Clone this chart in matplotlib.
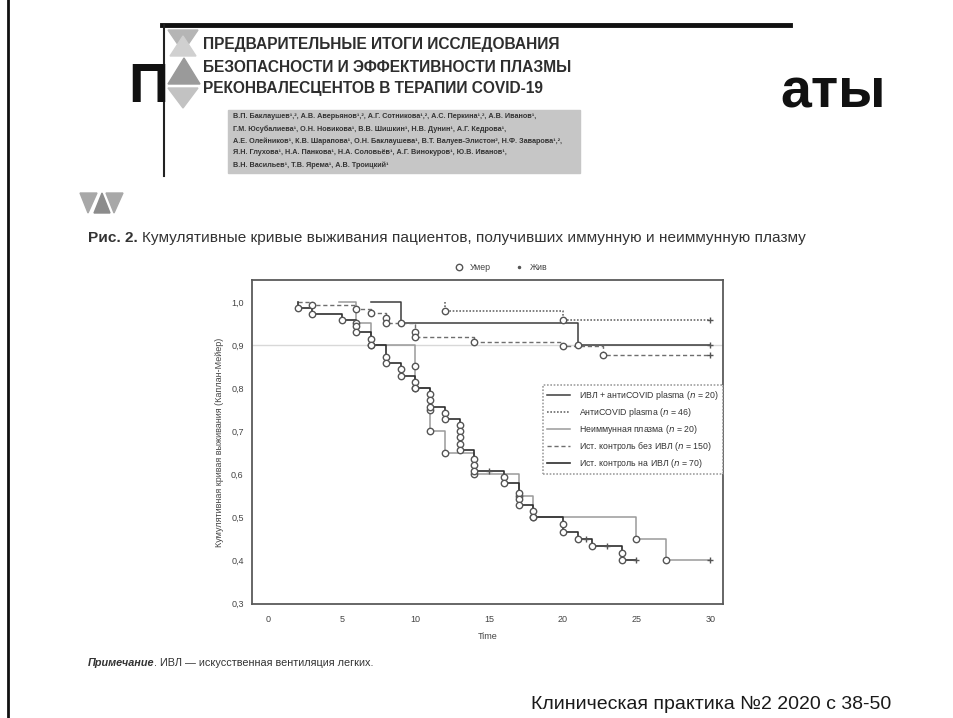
import matplotlib
matplotlib.use("Agg")
import matplotlib.pyplot as plt
from matplotlib.lines import Line2D
from matplotlib.patches import Rectangle, Polygon

plt.rcParams['font.family'] = ['Liberation Sans', 'DejaVu Sans']

W, H = 954, 718

# ---- Kaplan-Meier data (time in days, cumulative survival after each death) ----
ivl_plasma_start = 7
ivl_plasma_t = [9, 21]
ivl_plasma_s = [0.95, 0.90]
ivl_plasma_cens = [30]

plasma_start = 12
plasma_t = [12, 20]
plasma_s = [0.978, 0.957]
plasma_cens = [30]

nonimmune_start = 4.8
nonimmune_t = [6, 7, 10, 10, 11, 11, 12, 14, 17, 18, 25, 27]
nonimmune_s = [0.95, 0.90, 0.85, 0.80, 0.75, 0.70, 0.65, 0.60, 0.55, 0.50, 0.45, 0.40]
nonimmune_cens = [30]

ctrl_noivl_start = 2
ctrl_noivl_t = [3, 6, 7, 8, 8, 10, 10, 14, 20, 22.7]
ctrl_noivl_s = [0.993, 0.983, 0.974, 0.963, 0.952, 0.930, 0.919, 0.907, 0.898, 0.877]
ctrl_noivl_cens = [30]

ctrl_ivl_start = 2
ctrl_ivl_t = [2, 3, 5, 6, 6, 7, 7, 8, 8, 9, 9, 10, 10, 11, 11, 11, 12, 12,
              13, 13, 13, 13, 13, 14, 14, 14, 16, 16, 17, 17, 17, 18, 18,
              20, 20, 21, 22, 24, 24]
ctrl_ivl_s = [0.986, 0.971, 0.957, 0.943, 0.929, 0.914, 0.900, 0.871, 0.857,
              0.843, 0.829, 0.814, 0.800, 0.786, 0.771, 0.757, 0.743, 0.729,
              0.714, 0.700, 0.686, 0.671, 0.657, 0.636, 0.621, 0.607, 0.593,
              0.579, 0.557, 0.543, 0.529, 0.514, 0.500, 0.483, 0.466, 0.450,
              0.433, 0.416, 0.400]
ctrl_ivl_cens = [15, 21.6, 23, 25]

labels = [
    "ИВЛ + антиCOVID plasma ($n$ = 20)",
    "АнтиCOVID plasma ($n$ = 46)",
    "Неиммунная плазма ($n$ = 20)",
    "Ист. контроль без ИВЛ ($n$ = 150)",
    "Ист. контроль на ИВЛ ($n$ = 70)",
]

x_ticks = [0, 5, 10, 15, 20, 25, 30]
y_ticks = [0.3, 0.4, 0.5, 0.6, 0.7, 0.8, 0.9, 1.0]
y_ticklabels = ["0,3", "0,4", "0,5", "0,6", "0,7", "0,8", "0,9", "1,0"]

fig = plt.figure(figsize=(W / 100, H / 100), dpi=100)
fig.patch.set_facecolor("white")
renderer = fig.canvas.get_renderer()


def fx(px):
    return px / W


def fy(py):
    return 1 - py / H


def chain_text(x_px, y_px, parts, **common):
    """Draw consecutive text runs with different styles on one line."""
    x = fx(x_px)
    for s, kw in parts:
        t = fig.text(x, fy(y_px), s, va="center", ha="left", **common, **kw)
        x = t.get_window_extent(renderer).x1 / W


# ---- slide decorations ----
deco = fig.add_axes([0, 0, 1, 1], zorder=0)
deco.set_xlim(0, W)
deco.set_ylim(H, 0)
deco.axis("off")

# slide left border
deco.plot([8, 8], [0, H], color="#111111", lw=2)

# slide title fragments
fig.text(fx(128), fy(88), "П", fontsize=40, fontweight="bold", color="#111111",
         va="center", ha="left")
fig.text(fx(780), fy(93), "аты", fontsize=40, fontweight="bold", color="#111111",
         va="center", ha="left")

# journal header strip
deco.add_patch(Rectangle((160, 0), 630, 24, color="white", zorder=2))
deco.plot([162, 790], [25, 25], color="#111111", lw=3.5, zorder=3)
deco.plot([164, 164], [25, 176], color="#222222", lw=1.5, zorder=3)
deco.add_patch(Rectangle((166, 27), 420, 80, color="white", zorder=2))

# logo triangles
for pts, c in [
    ([(168, 30), (198, 30), (183, 52)], "#b5b5b5"),
    ([(170, 56), (196, 56), (183, 36)], "#d0d0d0"),
    ([(168, 84), (200, 84), (184, 58)], "#9a9a9a"),
    ([(168, 88), (198, 88), (183, 108)], "#c2c2c2"),
    ([(80, 193), (97, 193), (88, 213)], "#a8a8a8"),
    ([(94, 213), (110, 213), (102, 193)], "#8c8c8c"),
    ([(106, 193), (123, 193), (114, 213)], "#a8a8a8"),
]:
    deco.add_patch(Polygon(pts, closed=True, color=c, zorder=3))

# paper title
title_lines = [
    "ПРЕДВАРИТЕЛЬНЫЕ ИТОГИ ИССЛЕДОВАНИЯ",
    "БЕЗОПАСНОСТИ И ЭФФЕКТИВНОСТИ ПЛАЗМЫ",
    "РЕКОНВАЛЕСЦЕНТОВ В ТЕРАПИИ COVID-19",
]
for i, line in enumerate(title_lines):
    fig.text(fx(203), fy(45 + 22 * i), line, fontsize=11.2, fontweight="bold",
             color="#2e2e2e", va="center", ha="left", zorder=4)

# authors box
deco.add_patch(Rectangle((228, 110), 352, 63, color="#c6c6c6", zorder=3))
authors = [
    "В.П. Баклаушев¹,², А.В. Аверьянов¹,², А.Г. Сотникова¹,², А.С. Перкина¹,², А.В. Иванов¹,",
    "Г.М. Юсубалиева¹, О.Н. Новикова¹, В.В. Шишкин¹, Н.В. Дунин¹, А.Г. Кедрова¹,",
    "А.Е. Олейников¹, К.В. Шарапова¹, О.Н. Баклаушева¹, В.Т. Валуев-Элистон², Н.Ф. Заварова¹,²,",
    "Я.Н. Глухова¹, Н.А. Панкова¹, Н.А. Соловьёв¹, А.Г. Винокуров¹, Ю.В. Иванов¹,",
    "В.Н. Васильев¹, Т.В. Ярема¹, А.В. Троицкий¹",
]
for i, line in enumerate(authors):
    fig.text(fx(233), fy(117 + 12 * i), line, fontsize=5.2, fontweight="bold",
             color="#333333", va="center", ha="left", zorder=4)

# figure caption
chain_text(88, 238, [
    ("Рис. 2. ", dict(fontweight="bold")),
    ("Кумулятивные кривые выживания пациентов, получивших иммунную и неиммунную плазму", {}),
], fontsize=11.1, color="#333333")

# note and source
chain_text(88, 663, [
    ("Примечание", dict(fontweight="bold", fontstyle="italic")),
    (". ИВЛ — искусственная вентиляция легких.", {}),
], fontsize=7.8, color="#333333")
fig.text(fx(531), fy(704), "Клиническая практика №2 2020 с 38-50", fontsize=14,
         color="#1a1a1a", va="center", ha="left")

# ---- survival chart ----
ax = fig.add_axes([252 / W, 1 - 604 / H, (723 - 252) / W, (604 - 280) / H], zorder=2)
ax.set_xlim(-1.09, 30.87)
ax.set_ylim(0.298, 1.051)

ax.axhline(0.9, color="#d8d8d8", lw=1.0, zorder=1)

series = [
    (ivl_plasma_start, ivl_plasma_t, ivl_plasma_s, ivl_plasma_cens, "#3c3c3c", "-", 1.1),
    (plasma_start, plasma_t, plasma_s, plasma_cens, "#6a6a6a", (0, (1, 1)), 1.2),
    (nonimmune_start, nonimmune_t, nonimmune_s, nonimmune_cens, "#9a9a9a", "-", 1.1),
    (ctrl_noivl_start, ctrl_noivl_t, ctrl_noivl_s, ctrl_noivl_cens, "#6e6e6e", (0, (3, 2)), 1.0),
    (ctrl_ivl_start, ctrl_ivl_t, ctrl_ivl_s, ctrl_ivl_cens, "#2e2e2e", "-", 1.2),
]

for start, ts, ss, cens, col, ls, lw in series:
    end = max(cens)
    xs = [start] + list(ts) + [end]
    ys = [1.0] + list(ss) + [ss[-1]]
    ax.step(xs, ys, where="post", color=col, ls=ls, lw=lw, zorder=3)
    ax.plot(ts, ss, ls="none", marker="o", ms=4.6, mfc="white", mec="#555555",
            mew=1.0, zorder=4)
    # censored observations at the survival level in effect
    cy = []
    for c in cens:
        level = 1.0
        for t, s in zip(ts, ss):
            if t <= c:
                level = s
        cy.append(level)
    ax.plot(cens, cy, ls="none", marker="+", ms=4, mec="#555555", mew=1.0, zorder=4)

ax.set_xticks(x_ticks)
ax.set_yticks(y_ticks)
ax.set_yticklabels(y_ticklabels)
ax.tick_params(length=0, labelsize=6.5, labelcolor="#444444")
ax.tick_params(axis="y", pad=6)
ax.tick_params(axis="x", pad=8)
for sp in ax.spines.values():
    sp.set_color("#5a5a5a")
    sp.set_linewidth(1.3)

ax.set_xlabel("Time", fontsize=6.5, color="#444444", labelpad=6)
ax.set_ylabel("Кумулятивная кривая выживания (Каплан-Мейер)", fontsize=6.5,
              color="#444444", labelpad=5)

handles = [Line2D([], [], color=col, ls=ls, lw=lw) for _, _, _, _, col, ls, lw in series]
leg = ax.legend(handles, labels, loc="upper right", bbox_to_anchor=(1.0, 0.676),
                fontsize=6.3, frameon=True, fancybox=False, handlelength=2.6,
                borderpad=0.5, labelspacing=0.45, handletextpad=1.0, borderaxespad=0)
leg.get_frame().set_edgecolor("#888888")
leg.get_frame().set_linestyle((0, (1, 1)))
leg.get_frame().set_linewidth(1.2)
for t in leg.get_texts():
    t.set_color("#333333")

# marker key above the plot
key = [Line2D([], [], ls="none", marker="o", ms=4.6, mfc="white", mec="#555555"),
       Line2D([], [], ls="none", marker=".", ms=3, color="#555555")]
fig.legend(key, ["Умер", "Жив"], loc="center", bbox_to_anchor=(fx(499), fy(268)),
           ncol=2, frameon=False, fontsize=6.3, handletextpad=0.3, columnspacing=2.2,
           labelcolor="#444444")

fig.savefig("out.png", dpi=100, facecolor="white")
